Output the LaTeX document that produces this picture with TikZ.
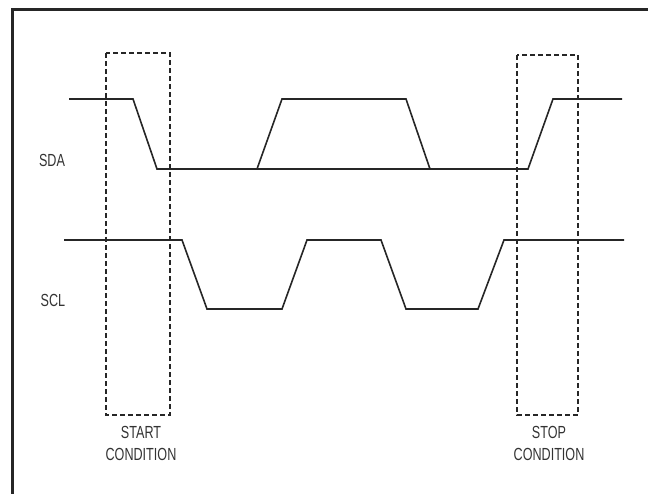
\documentclass[tikz,border=0pt]{standalone}
\usepackage{fontspec}
\setmainfont[FakeStretch=0.72]{Liberation Sans}
\begin{document}
\begin{tikzpicture}[x=1pt,y=-1pt,
  signal/.style={line width=1.6pt, line join=miter, color=black!85},
  condbox/.style={line width=1.4pt, dash pattern=on 5pt off 3pt, color=black!85},
  frame/.style={line width=3pt, color=black!85},
  lbl/.style={font=\fontsize{17.5}{22}\selectfont, color=black!80, inner sep=0pt, align=center}]
\useasboundingbox (0,0) rectangle (648,494);
% frame (top and left only)
\draw[frame] (12,494) -- (12,10) -- (648,10);
% condition boxes
\draw[condbox] (106,53) rectangle (170,415);
\draw[condbox] (517,55) rectangle (578,415);
% SDA
\draw[signal] (69,99) -- (133,99) -- (157,169) -- (528,169) -- (553,99) -- (622,99);
\draw[signal] (257,169) -- (282,99) -- (406,99) -- (430,169);
% SCL
\draw[signal] (64,240) -- (182,240) -- (207,309) -- (282,309) -- (307,240) -- (381,240) -- (406,309) -- (478,309) -- (504,240) -- (624,240);
% labels
\node[lbl] (sda) at (52,160) {SDA};
\node[lbl] (scl) at (53,300) {SCL};
\node[lbl, anchor=north] (start) at (141,426.5) {START\\CONDITION};
\node[lbl, anchor=north] (stop) at (549,426.5) {STOP\\CONDITION};
\end{tikzpicture}
\end{document}
